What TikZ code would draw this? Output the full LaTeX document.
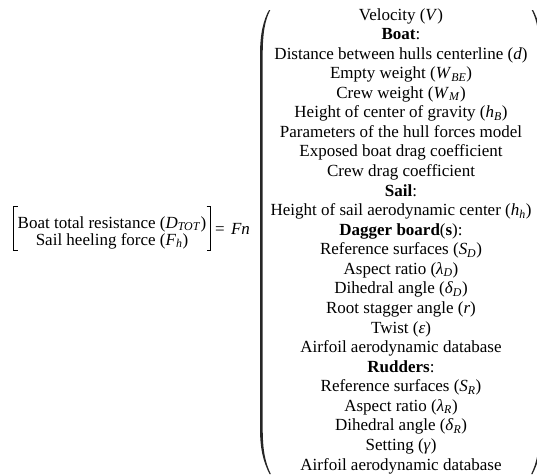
\documentclass[tikz,border=0pt]{standalone}
\usepackage{fontspec}
\setmainfont{Liberation Serif}
\newcommand{\vv}[1]{\textit{#1}}
\newcommand{\sbs}[1]{\textsubscript{\textit{#1}}}
\begin{document}
\begin{tikzpicture}[x=1pt,y=-1pt,
  txt/.style={font=\fontsize{17}{19}\selectfont, inner sep=0pt, anchor=base},
  brk/.style={line width=0.9pt},
  parfill/.style={fill=black!85, draw=none}]
\useasboundingbox (0,0) rectangle (537,475);
% left matrix
\node[txt] (r1) at (112,228) {Boat total resistance (\vv{D}\sbs{TOT})};
\node[txt] (r2) at (112,245) {Sail heeling force (\vv{F}\sbs{h})};
\draw[brk] (17.5,206) -- (13.5,206) -- (13.5,250) -- (17.5,250);
\draw[brk] (206.5,206) -- (210.5,206) -- (210.5,250) -- (206.5,250);
\node[txt] (eq) at (220,234) {=};
\node[txt] (fn) at (240.5,234) {\vv{Fn}};
% big parentheses
\begin{scope}
\clip (0,0) rectangle (537,475);
\fill[parfill] (269,10) .. controls (263.5,20) and (260,33) .. (260,55) -- (260,428)
  .. controls (260,450) and (263.5,462) .. (269.5,474)
  -- (270.8,474) .. controls (265,462) and (262.7,450) .. (262.7,428) -- (262.7,55)
  .. controls (262.7,33) and (265,20) .. (270.3,10) -- cycle;
\begin{scope}[xshift=802pt, xscale=-1]
\fill[parfill] (269,10) .. controls (263.5,20) and (260,33) .. (260,55) -- (260,428)
  .. controls (260,450) and (263.5,462) .. (269.5,474)
  -- (270.8,474) .. controls (265,462) and (262.7,450) .. (262.7,428) -- (262.7,55)
  .. controls (262.7,33) and (265,20) .. (270.3,10) -- cycle;
\end{scope}
\end{scope}
% column of parameters
\node[txt] (l1) at (401,20) {Velocity (\vv{V})};
\node[txt] (l2) at (401,39.57) {\textbf{Boat}:};
\node[txt] (l3) at (401,59.13) {Distance between hulls centerline (\vv{d})};
\node[txt] (l4) at (401,78.70) {Empty weight (\vv{W}\sbs{BE})};
\node[txt] (l5) at (401,98.26) {Crew weight (\vv{W}\sbs{M})};
\node[txt] (l6) at (401,117.83) {Height of center of gravity (\vv{h}\sbs{B})};
\node[txt] (l7) at (401,137.39) {Parameters of the hull forces model};
\node[txt] (l8) at (401,156.96) {Exposed boat drag coefficient};
\node[txt] (l9) at (401,176.52) {Crew drag coefficient};
\node[txt] (l10) at (401,196.09) {\textbf{Sail}:};
\node[txt] (l11) at (401,215.65) {Height of sail aerodynamic center (\vv{h}\sbs{h})};
\node[txt] (l12) at (401,235.22) {\textbf{Dagger board}(\textbf{s}):};
\node[txt] (l13) at (401,254.78) {Reference surfaces (\vv{S}\sbs{D})};
\node[txt] (l14) at (401,274.35) {Aspect ratio (\vv{λ}\sbs{D})};
\node[txt] (l15) at (401,293.91) {Dihedral angle (\vv{δ}\sbs{D})};
\node[txt] (l16) at (401,313.48) {Root stagger angle (\vv{r})};
\node[txt] (l17) at (401,333.04) {Twist (\vv{ε})};
\node[txt] (l18) at (401,352.61) {Airfoil aerodynamic database};
\node[txt] (l19) at (401,372.17) {\textbf{Rudders}:};
\node[txt] (l20) at (401,391.74) {Reference surfaces (\vv{S}\sbs{R})};
\node[txt] (l21) at (401,411.30) {Aspect ratio (\vv{λ}\sbs{R})};
\node[txt] (l22) at (401,430.87) {Dihedral angle (\vv{δ}\sbs{R})};
\node[txt] (l23) at (401,450.43) {Setting (\vv{γ})};
\node[txt] (l24) at (401,470) {Airfoil aerodynamic database};
\end{tikzpicture}
\end{document}
